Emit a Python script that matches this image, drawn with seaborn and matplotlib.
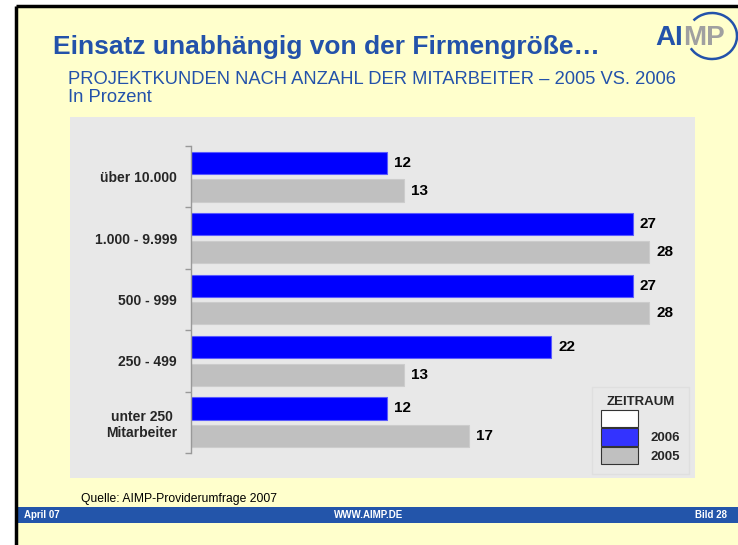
import matplotlib
matplotlib.use("Agg")
import matplotlib.pyplot as plt
from matplotlib.patches import Rectangle, Arc, Patch
import pandas as pd
import seaborn as sns

categories = ["über 10.000", "1.000 - 9.999", "500 - 999", "250 - 499",
              "unter 250\nMitarbeiter"]
values_2006 = [12, 27, 27, 22, 12]
values_2005 = [13, 28, 28, 13, 17]
periods = ["2006", "2005"]

BLUE = "#0000FF"
GREY = "#C0C0C0"
SLIDE = "#FFFFCC"
TITLE_BLUE = "#2352AA"
PANEL = "#E8E8E8"

df = pd.DataFrame({
    "Kategorie": categories * 2,
    "Wert": values_2006 + values_2005,
    "Zeitraum": [periods[0]] * len(categories) + [periods[1]] * len(categories),
})

sns.set_theme(style="white")
plt.rcParams["font.family"] = ["Liberation Sans", "DejaVu Sans"]

W, H = 738, 545
fig = plt.figure(figsize=(W / 100, H / 100), dpi=100, facecolor="white")

# slide decoration in pixel coordinates
deco = fig.add_axes([0, 0, 1, 1])
deco.set_xlim(0, W)
deco.set_ylim(H, 0)
deco.axis("off")
deco.set_zorder(-1)
deco.add_patch(Rectangle((16, 6), W - 16, H - 6, facecolor=SLIDE, edgecolor="none"))
deco.add_patch(Rectangle((70, 117), 625, 361, facecolor=PANEL, edgecolor="none"))
deco.add_patch(Rectangle((16, 507), W - 16, 16, facecolor="#2355AA", edgecolor="none"))
deco.plot([16, W], [6, 6], color="black", lw=2.5, solid_capstyle="butt")
deco.plot([16, 16], [6, H], color="black", lw=2.5, solid_capstyle="butt")

deco.text(53, 47, "Einsatz unabhängig von der Firmengröße…", color=TITLE_BLUE,
          fontsize=19, fontweight="bold", va="center", ha="left")
deco.text(68, 79, "PROJEKTKUNDEN NACH ANZAHL DER MITARBEITER – 2005 VS. 2006",
          color=TITLE_BLUE, fontsize=13.2, va="center", ha="left")
deco.text(68, 98, "In Prozent", color=TITLE_BLUE, fontsize=13.2, va="center", ha="left")
deco.text(81, 499, "Quelle: AIMP-Providerumfrage 2007", color="black",
          fontsize=8.7, va="center", ha="left")
deco.text(24, 515, "April 07", color="white", fontsize=7, fontweight="bold",
          va="center", ha="left")
deco.text(369, 515, "WWW.AIMP.DE", color="white", fontsize=7, fontweight="bold",
          va="center", ha="center")
deco.text(727, 515, "Bild 28", color="white", fontsize=7, fontweight="bold",
          va="center", ha="right")

# logo
deco.text(683, 38, "AI", color=TITLE_BLUE, fontsize=20, fontweight="bold",
          va="center", ha="right")
deco.text(683, 38, "MP", color="#A0A0A0", fontsize=20, fontweight="bold",
          va="center", ha="left")
deco.add_patch(Arc((712, 36), 50, 46, theta1=-140, theta2=150,
                   color=TITLE_BLUE, lw=1.8))

# chart
ax = fig.add_axes([191 / W, 1 - 453 / H, (682 - 191) / W, (453 - 146) / H])
ax.patch.set_alpha(0)
sns.barplot(data=df, y="Kategorie", x="Wert", hue="Zeitraum", order=categories,
            hue_order=periods, palette=[BLUE, GREY], saturation=1, orient="h",
            width=0.9, gap=0.2, legend=False, ax=ax, edgecolor="none")

for cont, edge in zip(ax.containers, ["#5A5AFF", "#CCCCCC"]):
    for bar in cont:
        bar.set_edgecolor(edge)
        bar.set_linewidth(0.8)
    ax.bar_label(cont, padding=5, fontsize=11, fontweight="bold", color="black")

ax.set_xlim(0, 30)
ax.set_ylim(len(categories) - 0.5, -0.5)
ax.set_xlabel("")
ax.set_ylabel("")
ax.set_xticks([])
for side in ["top", "right", "bottom"]:
    ax.spines[side].set_visible(False)
ax.spines["left"].set_color("#999999")
ax.spines["left"].set_linewidth(1)
ax.set_yticks([i - 0.5 for i in range(len(categories) + 1)], minor=True)
ax.tick_params(axis="y", which="minor", length=4, width=1, color="#999999",
               direction="out", left=True)
ax.tick_params(axis="y", which="major", length=0, pad=10)
ax.set_yticks(range(len(categories)))
ax.set_yticklabels(categories, fontsize=10, fontweight="bold",
                   multialignment="center")

handles = [Patch(facecolor="white", edgecolor="#333333", lw=0.8),
           Patch(facecolor="#3333FF", edgecolor="#333333", lw=0.8),
           Patch(facecolor=GREY, edgecolor="#333333", lw=0.8)]
leg = fig.legend(handles, ["", "2006", "2005"], title="ZEITRAUM",
                 loc="upper left", bbox_to_anchor=(592 / W, 1 - 387 / H),
                 borderaxespad=0, frameon=True, fancybox=False, fontsize=9.5,
                 title_fontsize=9.5, handlelength=2.8, handleheight=1.65,
                 labelspacing=0.1, borderpad=0.7, handletextpad=0.9)
leg.get_title().set_fontweight("bold")
for t in leg.get_texts():
    t.set_fontweight("bold")
leg.get_frame().set_facecolor(PANEL)
leg.get_frame().set_edgecolor("#DDDDDD")

fig.savefig("out.png", dpi=100, facecolor="white")
